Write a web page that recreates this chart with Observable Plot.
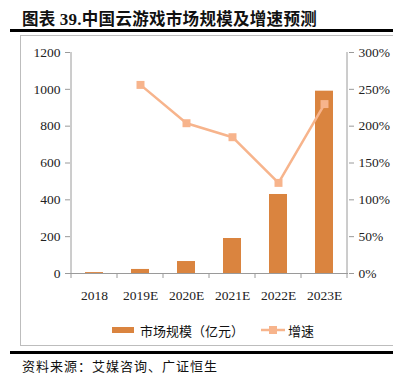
<!DOCTYPE html>
<html>
<head>
<meta charset="utf-8">
<script src="https://cdn.jsdelivr.net/npm/d3@7"></script>
<script src="https://cdn.jsdelivr.net/npm/@observablehq/plot@0.6"></script>
<style>
  html, body { margin: 0; padding: 0; background: #fff; }
  #wrap { position: relative; width: 393px; height: 388px; overflow: hidden; font-family: "Noto Sans CJK SC", sans-serif; }
  #title { position: absolute; left: 22px; top: 6px; font-size: 16.5px; font-weight: bold; color: #111; white-space: nowrap; letter-spacing: 0.3px; }
  #title .num { font-family: "Liberation Serif", serif; font-weight: bold; font-size: 17px; }
  .hline { position: absolute; background: #000; }
  #frame { position: absolute; left: 20px; top: 35px; width: 400px; height: 311px; border: 1px solid #bdbdbd; box-sizing: border-box; }
  #chart { position: absolute; left: 0; top: 0; }
  #legend { position: absolute; top: 320px; left: 0; width: 393px; height: 20px; font-size: 13px; color: #111; }
  #legend .item { position: absolute; top: 0; display: flex; align-items: center; height: 20px; white-space: nowrap; }
  #footer { position: absolute; left: 22px; top: 356px; font-size: 13px; color: #111; white-space: nowrap; letter-spacing: 1px; }
</style>
</head>
<body>
<div id="wrap">
  <div id="title">图表 <span class="num">39.</span>中国云游戏市场规模及增速预测</div>
  <div class="hline" style="left:10px; top:29px; width:383px; height:2.5px;"></div>
  <div id="frame"></div>
  <div id="chart"></div>
  <div id="legend"></div>
  <div class="hline" style="left:10px; top:351px; width:383px; height:2.5px;"></div>
  <div id="footer">资料来源：艾媒咨询、广证恒生</div>
</div>
<script>
// ---- data ----
const years = ["2018", "2019E", "2020E", "2021E", "2022E", "2023E"];
const marketSize = [5, 22, 65, 190, 429, 990];          // 市场规模（亿元）
const growth = [null, 256, 204, 185, 123, 230];          // 增速 (%)
const leftTicks = [0, 200, 400, 600, 800, 1000, 1200];
const rightTicks = [0, 50, 100, 150, 200, 250, 300];     // %
const seriesNames = ["市场规模（亿元）", "增速"];

const barColor = "#DA843F";
const lineColor = "#F7B48C";
const axisColor = "#9a9a9a";

// right axis (0–300%) mapped onto left axis domain (0–1200)
const ratio = 1200 / 300;

const rows = years.map((y, i) => ({year: y, size: marketSize[i], growth: growth[i]}));
const lineRows = rows.filter(d => d.growth != null);

const W = 393, H = 310;

const plot = Plot.plot({
  width: W,
  height: H,
  marginLeft: 70,
  marginRight: 45,
  marginTop: 52,
  marginBottom: 37,
  style: {fontFamily: "'Liberation Serif', 'Times New Roman', serif", fontSize: "13.5px", color: "#222", background: "transparent", overflow: "visible"},
  x: {type: "band", domain: years, padding: 0, label: null},
  y: {domain: [0, 1200], label: null},
  marks: [
    Plot.barY(rows, {x: "year", y: "size", fill: barColor, insetLeft: 14, insetRight: 14}),
    Plot.ruleY([0], {stroke: axisColor}),
    Plot.axisY({ticks: leftTicks, tickSize: 5, tickPadding: 5, tickFormat: d => String(d), stroke: axisColor, fill: "#222", label: null}),
    Plot.axisY({anchor: "right", ticks: rightTicks.map(t => t * ratio), tickSize: 5, tickPadding: 5,
      tickFormat: d => (d / ratio) + "%", stroke: axisColor, fill: "#222", textAnchor: "start", label: null}),
    Plot.axisX({tickSize: 0, tickPadding: 17, fill: "#222", label: null}),
    Plot.line(lineRows, {x: "year", y: d => d.growth * ratio, stroke: lineColor, strokeWidth: 2.5}),
    Plot.dot(lineRows, {x: "year", y: d => d.growth * ratio, symbol: "square", r: 4.5, fill: lineColor, stroke: "none"})
  ]
});
document.getElementById("chart").appendChild(plot);

// axis lines and boundary ticks, positioned from the plot's own scales
(function () {
  const xs = plot.scale("x");
  const ys = plot.scale("y");
  const svg = d3.select(plot);
  const y0 = ys.apply(0), yTop = ys.apply(1200);
  const xL = xs.apply(years[0]);
  const xR = xs.apply(years[years.length - 1]) + xs.bandwidth;
  const g = svg.insert("g", ":first-child").attr("stroke", axisColor).attr("fill", "none");
  g.append("line").attr("x1", xL).attr("x2", xL).attr("y1", yTop).attr("y2", y0);
  g.append("line").attr("x1", xR).attr("x2", xR).attr("y1", yTop).attr("y2", y0);
  const edges = years.map(y => xs.apply(y)).concat([xR]);
  g.selectAll("line.edge").data(edges).join("line").attr("class", "edge")
    .attr("x1", d => d).attr("x2", d => d)
    .attr("y1", y0).attr("y2", y0 + 5);
})();

// legend
const legend = document.getElementById("legend");
legend.innerHTML = `
  <div class="item" style="left:112px;"><span style="display:inline-block;width:22px;height:6px;background:${barColor};margin-right:6px;"></span>${seriesNames[0]}</div>
  <div class="item" style="left:261px;"><svg width="24" height="10" style="margin-right:3px;"><line x1="0" y1="5" x2="24" y2="5" stroke="${lineColor}" stroke-width="2.5"/><rect x="8" y="1" width="8" height="8" fill="${lineColor}"/></svg>${seriesNames[1]}</div>
`;
</script>
</body>
</html>
